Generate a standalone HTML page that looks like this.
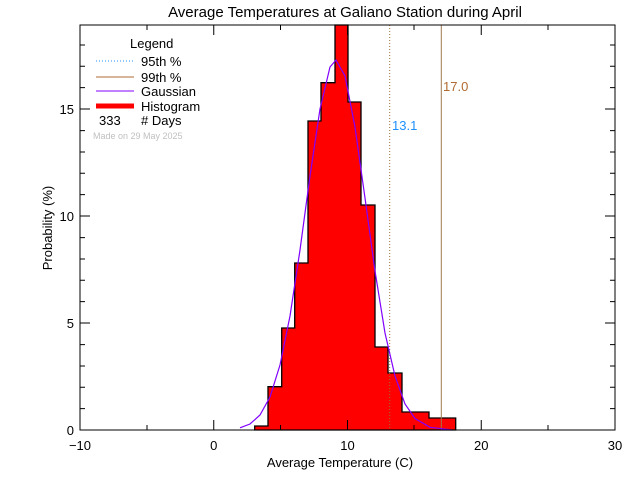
<!DOCTYPE html>
<html><head><style>body{margin:0;background:#fff}</style></head><body>
<svg width="640" height="480" xmlns="http://www.w3.org/2000/svg" font-family="Liberation Sans, sans-serif">
<rect width="640" height="480" fill="#fff"/>
<text x="345" y="17" font-size="15" text-anchor="middle">Average Temperatures at Galiano Station during April</text>
<g fill="#ff0000" stroke="#000" stroke-width="1.3">
<path d="M254.7,430 V426 H268 V386.7 H281.7 V328 H294.7 V263 H308 V121 H321 V82.7 H335 V25 H348 V102 H361 V205 H375 V347 H388 V373 H402 V412 H429 V418 H455.7 V430 Z"/>
</g>
<line x1="389.7" y1="25" x2="389.7" y2="430" stroke="#a0703a" stroke-dasharray="1,2"/>
<line x1="441.3" y1="25" x2="441.3" y2="430" stroke="#a07a50" stroke-width="1"/>
<polyline fill="none" stroke="#8000ff" stroke-width="1.2" points="
240,427.8 250,424 260,415 270,397 280,365 290,316 300,250 310,176 320,109 330,67 336,60 345,76 355,127 365,198 375,271 385,333 395,376 405,404 415,418.5 430,427.3 452,430"/>
<text x="392" y="130" font-size="13" fill="#1e90ff">13.1</text>
<text x="443" y="91" font-size="13" fill="#b06a30">17.0</text>
<rect x="80" y="25" width="535" height="405" fill="none" stroke="#000"/>
<g stroke="#000">
<path d="M147,430v-5M280.5,430v-5M414,430v-5M548,430v-5M147,25v5M280.5,25v5M414,25v5M548,25v5"/>
<path d="M213.75,430v-10M347.5,430v-10M481.25,430v-10M213.75,25v10M347.5,25v10M481.25,25v10"/>
<path d="M80,323h10M80,216h10M80,109h10M605,323h10M605,216h10M605,109h10"/>
<path d="M80,408.6h5M80,387.3h5M80,366h5M80,344.6h5M80,301.6h5M80,280.3h5M80,259h5M80,237.6h5M80,194.6h5M80,173.3h5M80,152h5M80,130.6h5M80,87.6h5M80,66.3h5M80,45h5"/>
<path d="M615,408.6h-5M615,387.3h-5M615,366h-5M615,344.6h-5M615,301.6h-5M615,280.3h-5M615,259h-5M615,237.6h-5M615,194.6h-5M615,173.3h-5M615,152h-5M615,130.6h-5M615,87.6h-5M615,66.3h-5M615,45h-5"/>
</g>
<g font-size="13" text-anchor="middle">
<text x="80" y="450">−10</text><text x="213.75" y="450">0</text><text x="347.5" y="450">10</text><text x="481.25" y="450">20</text><text x="615" y="450">30</text>
<text x="340" y="467">Average Temperature (C)</text>
</g>
<g font-size="13" text-anchor="end">
<text x="74" y="435">0</text><text x="74" y="328">5</text><text x="74" y="221">10</text><text x="74" y="114">15</text>
</g>
<text transform="translate(52,228) rotate(-90)" font-size="13" text-anchor="middle">Probability  (%)</text>
<g font-size="13">
<text x="130" y="48">Legend</text>
<line x1="96" y1="61" x2="134" y2="61" stroke="#1e90ff" stroke-dasharray="1,2"/>
<text x="141" y="66">95th %</text>
<line x1="96" y1="77" x2="134" y2="77" stroke="#b06a30"/>
<text x="141" y="82">99th %</text>
<line x1="96" y1="91" x2="134" y2="91" stroke="#8000ff"/>
<text x="141" y="96">Gaussian</text>
<line x1="96" y1="106" x2="134" y2="106" stroke="#ff0000" stroke-width="5"/>
<text x="141" y="111">Histogram</text>
<text x="99" y="125">333</text><text x="141" y="125"># Days</text>
</g>
<text x="93" y="139" font-size="9" fill="#c0c0c0">Made on 29 May 2025</text>
</svg>
</body></html>
